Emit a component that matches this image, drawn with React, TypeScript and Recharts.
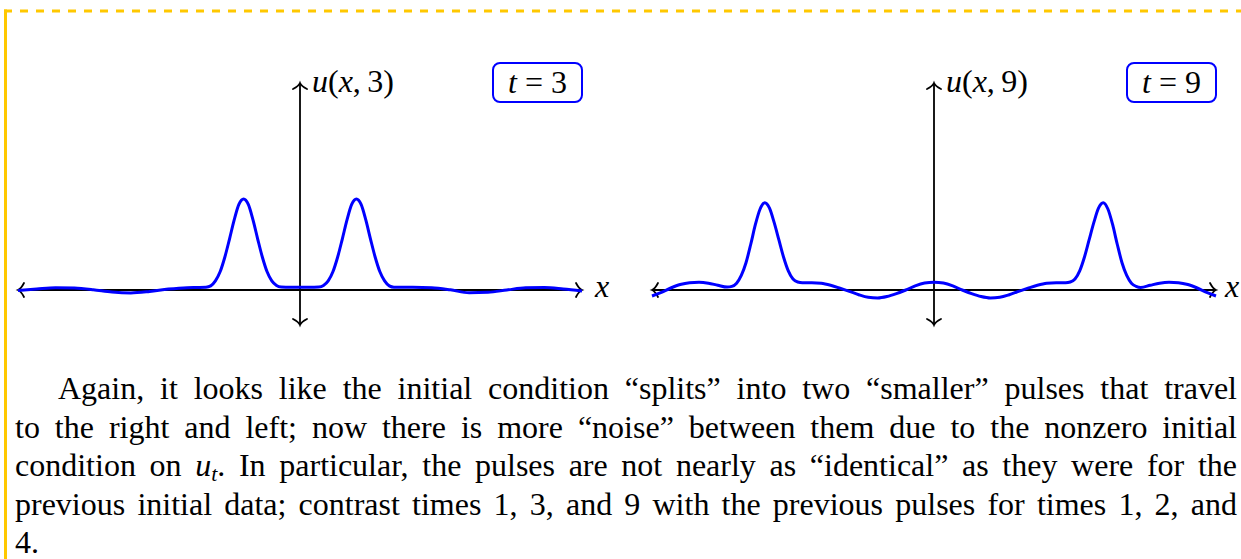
import React from "react";
import { LineChart, Line, XAxis, YAxis, ReferenceLine } from "recharts";

// wave profile at t = 3 (positions along x, heights)
const xsT3 = [
  -15, -14, -13, -12, -11, -10, -9, -8, -7, -6, -5.5, -5, -4.75, -4.5, -4.25, -4, -3.75, -3.5,
  -3.25, -3, -2.75, -2.5, -2.25, -2, -1.75, -1.5, -1.25, -1, -0.5, 0, 0.5, 1, 1.25, 1.5, 1.75, 2,
  2.25, 2.5, 2.75, 3, 3.25, 3.5, 3.75, 4, 4.25, 4.5, 4.75, 5, 5.5, 6, 7, 8, 9, 10, 11, 12, 13, 14, 15,
];
const uT3 = [
  -0.005, 0.012, 0.026, 0.022, 0.004, -0.022, -0.032, -0.016, 0.01, 0.026, 0.028, 0.03, 0.045, 0.1,
  0.2, 0.36, 0.56, 0.77, 0.94, 1.0, 0.94, 0.77, 0.56, 0.36, 0.2, 0.1, 0.05, 0.033, 0.03, 0.03, 0.03,
  0.033, 0.05, 0.1, 0.2, 0.36, 0.56, 0.77, 0.94, 1.0, 0.94, 0.77, 0.56, 0.36, 0.2, 0.1, 0.045, 0.03,
  0.03, 0.03, 0.025, 0.002, -0.03, -0.025, 0.0, 0.025, 0.028, 0.012, -0.01,
];

// wave profile at t = 9 (right panel)
const xsT9 = [
  -15, -14.5, -14, -13.5, -13, -12.5, -12, -11.5, -11, -10.75, -10.5, -10.25, -10, -9.75, -9.5,
  -9.25, -9, -8.75, -8.5, -8.25, -8, -7.75, -7.5, -7.25, -7, -6.5, -6, -5.5, -5, -4.5, -4, -3.5, -3,
  -2.5, -2, -1.5, -1, -0.5, 0, 0.5, 1, 1.5, 2, 2.5, 3, 3.5, 4, 4.5, 5, 5.5, 6, 6.5, 7, 7.25, 7.5,
  7.75, 8, 8.25, 8.5, 8.75, 9, 9.25, 9.5, 9.75, 10, 10.25, 10.5, 10.75, 11, 11.5, 12, 12.5, 13, 13.5,
  14, 14.5, 15,
];
const uT9 = [
  -0.066, -0.025, 0.022, 0.06, 0.08, 0.085, 0.075, 0.052, 0.032, 0.04, 0.075, 0.16, 0.3, 0.5, 0.72,
  0.89, 0.96, 0.9, 0.74, 0.55, 0.36, 0.21, 0.12, 0.088, 0.08, 0.08, 0.074, 0.052, 0.02, -0.015,
  -0.052, -0.08, -0.088, -0.072, -0.04, 0.0, 0.045, 0.076, 0.085, 0.076, 0.045, 0.0, -0.04, -0.072,
  -0.088, -0.08, -0.052, -0.015, 0.02, 0.052, 0.074, 0.08, 0.08, 0.088, 0.12, 0.21, 0.36, 0.55, 0.74,
  0.9, 0.96, 0.89, 0.72, 0.5, 0.3, 0.16, 0.075, 0.04, 0.028, 0.052, 0.075, 0.085, 0.08, 0.06, 0.022,
  -0.025, -0.066,
];

const X_DOMAIN: [number, number] = [-15, 15];
const Y_DOMAIN: [number, number] = [-0.4, 2.3];
const Y_ARROW: [number, number] = [-0.385, 2.275];

const SERIF = '"Liberation Serif", "Times New Roman", serif';
const BLUE = "#0000ff";
const GOLD = "#ffc800";

const PLOT_W = 564;

// tikz style "to" arrow tip
function tipPath(tx: number, ty: number, fx: number, fy: number) {
  const len = Math.hypot(tx - fx, ty - fy) || 1;
  const dx = (tx - fx) / len;
  const dy = (ty - fy) / len;
  const nx = -dy;
  const ny = dx;
  const p = (b: number, s: number) => `${tx - b * dx + s * nx},${ty - b * dy + s * ny}`;
  return `M${p(6, 7)} Q${p(3, 1.2)} ${p(0, 0)} Q${p(3, -1.2)} ${p(6, -7)}`;
}

function arrowShape(label: React.ReactNode, dx: number, dy: number) {
  return (props: any) => {
    const { x1, y1, x2, y2 } = props;
    return (
      <g>
        <line x1={x1} y1={y1} x2={x2} y2={y2} stroke="#000" strokeWidth={1.8} />
        <path d={tipPath(x1, y1, x2, y2)} fill="none" stroke="#000" strokeWidth={1.8} strokeLinecap="round" />
        <path d={tipPath(x2, y2, x1, y1)} fill="none" stroke="#000" strokeWidth={1.8} strokeLinecap="round" />
        <text x={x2 + dx} y={y2 + dy} fontFamily={SERIF} fontSize={32} fill="#000">
          {label}
        </text>
      </g>
    );
  };
}

const it = (s: string) => <tspan fontStyle="italic">{s}</tspan>;

function Panel(props: {
  left: number;
  width: number;
  plotLeft: number;
  xs: number[];
  us: number[];
  time: number;
  xLabelGap: number;
}) {
  const { left, width, plotLeft, xs, us, time, xLabelGap } = props;
  const data = xs.map((x, i) => ({ x, u: us[i] }));
  const axisEnd = plotLeft + PLOT_W;

  return (
    <div style={{ position: "absolute", left, top: 0, width, height: 340 }}>
      <LineChart
        width={width}
        height={340}
        data={data}
        margin={{ top: 80.7, right: width - axisEnd, bottom: 13.6, left: plotLeft }}
      >
        <XAxis type="number" dataKey="x" domain={X_DOMAIN} hide />
        <YAxis type="number" domain={Y_DOMAIN} hide />
        <ReferenceLine
          segment={[{ x: X_DOMAIN[0], y: 0 }, { x: X_DOMAIN[1], y: 0 }]}
          ifOverflow="visible"
          shape={arrowShape(it("x"), xLabelGap, 7)}
        />
        <ReferenceLine
          segment={[{ x: 0, y: Y_ARROW[0] }, { x: 0, y: Y_ARROW[1] }]}
          ifOverflow="visible"
          shape={arrowShape(
            <>
              {it("u")}({it("x")},{"\u2009"}{time})
            </>,
            12,
            9
          )}
        />
        <Line
          type="monotone"
          dataKey="u"
          stroke={BLUE}
          strokeWidth={3}
          dot={false}
          isAnimationActive={false}
        />
      </LineChart>
      <div
        style={{
          position: "absolute",
          left: axisEnd - 90,
          top: 62,
          width: 91,
          height: 41,
          boxSizing: "border-box",
          border: `2px solid ${BLUE}`,
          borderRadius: 8,
          display: "flex",
          alignItems: "center",
          justifyContent: "center",
          fontFamily: SERIF,
          fontSize: 32,
          color: "#000",
        }}
      >
        <span>
          <i>t</i>
          <span style={{ margin: "0 8px" }}>=</span>
          {time}
        </span>
      </div>
    </div>
  );
}

const lineStyle: React.CSSProperties = { textAlign: "justify", textAlignLast: "justify" };

export default function App() {
  return (
    <div style={{ position: "absolute", left: 0, top: 0, width: 1241, height: 559, overflow: "hidden", background: "#fff" }}>
      <svg width={1241} height={559} style={{ position: "absolute", left: 0, top: 0 }}>
        <line x1={5.5} y1={9.5} x2={5.5} y2={559} stroke={GOLD} strokeWidth={3} />
        <line x1={4} y1={11} x2={1241} y2={11} stroke={GOLD} strokeWidth={3} strokeDasharray="8 8" />
      </svg>

      <Panel left={0} width={620} plotLeft={18} xs={xsT3} us={uT3} time={3} xLabelGap={13} />
      <Panel left={620} width={621} plotLeft={32} xs={xsT9} us={uT9} time={9} xLabelGap={9} />

      <div
        style={{
          position: "absolute",
          left: 15,
          top: 369,
          width: 1222,
          fontFamily: SERIF,
          fontSize: 32,
          lineHeight: "38.5px",
          color: "#000",
        }}
      >
        <div style={{ ...lineStyle, textIndent: 43 }}>
          Again, it looks like the initial condition “splits” into two “smaller” pulses that travel
        </div>
        <div style={lineStyle}>
          to the right and left; now there is more “noise” between them due to the nonzero initial
        </div>
        <div style={lineStyle}>
          condition on <i>u</i>
          <i style={{ fontSize: 22, position: "relative", top: 5, lineHeight: 0 }}>t</i>. In particular, the pulses are
          not nearly as “identical” as they were for the
        </div>
        <div style={lineStyle}>
          previous initial data; contrast times 1, 3, and 9 with the previous pulses for times 1, 2, and
        </div>
        <div>4.</div>
      </div>
    </div>
  );
}
